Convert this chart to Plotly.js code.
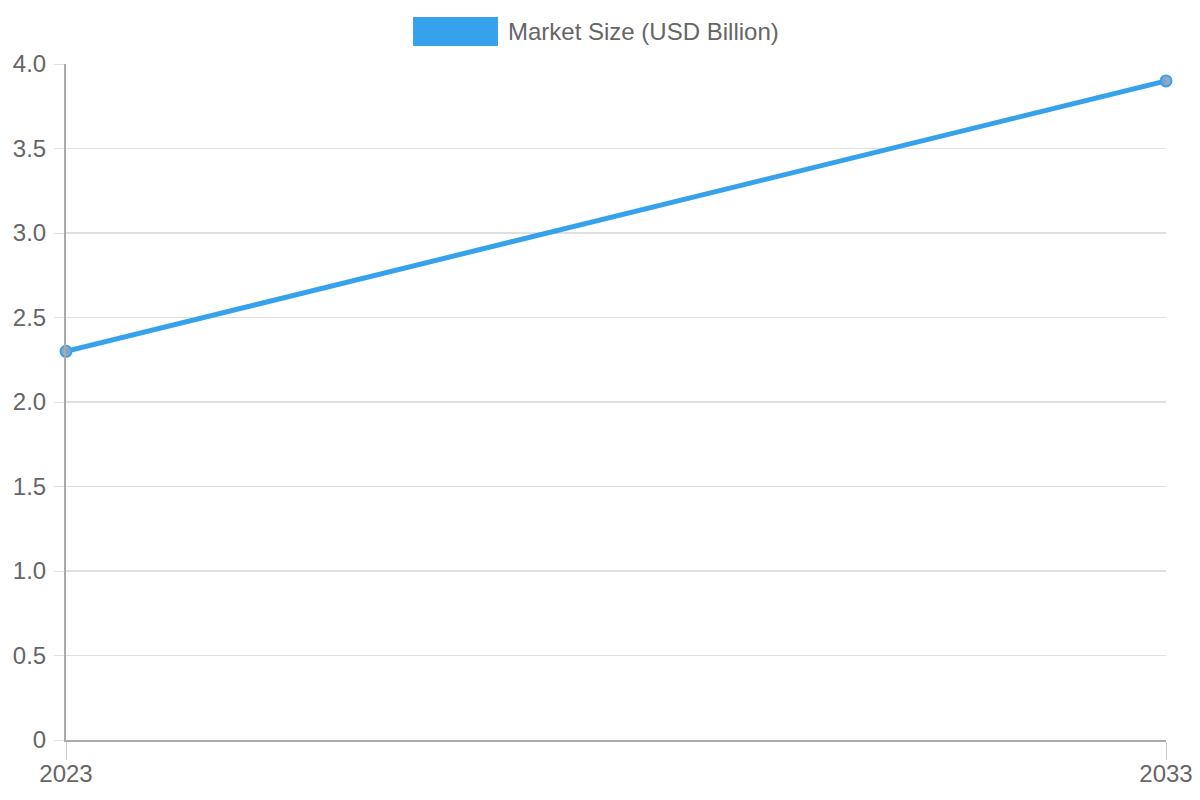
<!DOCTYPE html>
<html>
<head>
<meta charset="utf-8">
<script src="https://cdn.plot.ly/plotly-3.0.1.min.js"></script>
<style>
  html, body { margin: 0; padding: 0; background: #fff; }
  #chart { width: 1200px; height: 800px; }
</style>
</head>
<body>
<div id="chart"></div>
<script>
// data
const years = ['2023', '2033'];
const marketSize = [2.3, 3.9];
const seriesName = 'Market Size (USD Billion)';
const yTickVals = [0, 0.5, 1, 1.5, 2, 2.5, 3, 3.5, 4];
const yTickText = ['0', '0.5', '1.0', '1.5', '2.0', '2.5', '3.0', '3.5', '4.0'];

const blue = '#36A2EB';
const grid = '#e0e0e0';
const textGray = '#666';

const trace = {
  x: years,
  y: marketSize,
  type: 'scatter',
  mode: 'lines+markers',
  name: seriesName,
  line: { color: blue, width: 5 },
  marker: { size: 11, color: 'rgba(140,160,185,0.9)', line: { color: blue, width: 2 } },
  cliponaxis: false,
  showlegend: false
};

const layout = {
  width: 1200,
  height: 800,
  margin: { l: 66, r: 34, t: 64, b: 60 },
  paper_bgcolor: '#fff',
  plot_bgcolor: '#fff',
  font: { family: 'Liberation Sans, Arial, sans-serif', size: 24, color: textGray },
  xaxis: {
    type: 'category',
    range: [0, years.length - 1],
    showgrid: true,
    gridcolor: grid,
    gridwidth: 1.5,
    showline: true,
    linecolor: '#aaa',
    linewidth: 2,
    ticks: 'outside',
    ticklen: 18,
    tickcolor: '#ccc',
    tickfont: { size: 24, color: textGray },
    ticklabelstandoff: -7,
    zeroline: false
  },
  yaxis: {
    range: [0, 4],
    tickvals: yTickVals,
    ticktext: yTickText,
    showgrid: true,
    gridcolor: grid,
    gridwidth: 1.5,
    showline: true,
    linecolor: '#aaa',
    linewidth: 2,
    ticks: 'outside',
    ticklen: 10,
    tickcolor: grid,
    tickfont: { size: 24, color: textGray },
    ticklabelstandoff: 3,
    zeroline: false
  },
  shapes: [{
    type: 'rect', xref: 'paper', yref: 'paper',
    x0: 0.3155, x1: 0.3927, y0: 1.0266, y1: 1.0695,
    fillcolor: blue, line: { width: 0 }
  }],
  annotations: [{
    text: seriesName, xref: 'paper', yref: 'paper',
    x: 0.4, y: 1.0481, xanchor: 'left', yanchor: 'middle',
    showarrow: false, font: { size: 24, color: textGray }
  }]
};

Plotly.newPlot('chart', [trace], layout, { displayModeBar: false, staticPlot: true });
</script>
</body>
</html>
